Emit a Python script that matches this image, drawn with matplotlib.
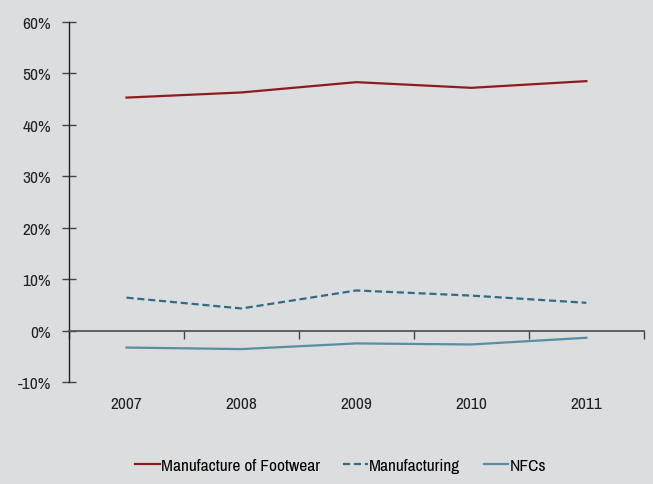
import numpy as np
import matplotlib
matplotlib.use("Agg")
import matplotlib.pyplot as plt
from matplotlib import font_manager

narrow = [f.name for f in font_manager.fontManager.ttflist if 'Narrow' in f.name]
plt.rcParams['font.family'] = (narrow[:1] or ['Liberation Sans']) + ['DejaVu Sans']
plt.rcParams['font.size'] = 12.5 if narrow else 10.5

years = ['2007', '2008', '2009', '2010', '2011']
footwear = [45.3, 46.3, 48.3, 47.2, 48.5]
manufacturing = [6.4, 4.3, 7.8, 6.8, 5.4]
nfcs = [-3.3, -3.6, -2.5, -2.7, -1.4]

bg = '#dcdddf'
fig = plt.figure(figsize=(6.53, 4.85), dpi=100, facecolor=bg)
ax = fig.add_axes([0.1057, 0.2103, 0.8803, 0.7423], facecolor=bg)

x = np.arange(len(years))
ax.plot(x, footwear, color='#8e1c1f', lw=1.6, label='Manufacture of Footwear')
ax.plot(x, manufacturing, color='#2f6c86', lw=1.6, ls=(0, (3.2, 1.7)), label='Manufacturing')
ax.plot(x, nfcs, color='#5a8ea2', lw=1.6, label='NFCs')

ax.set_xlim(-0.5, len(years) - 0.5)
ax.set_ylim(-10, 60)
ax.set_yticks(np.arange(-10, 61, 10))
ax.set_yticklabels([f'{v}%' for v in range(-10, 61, 10)])

for s in ['top', 'right']:
    ax.spines[s].set_visible(False)
ax.spines['left'].set_color('#222222')
ax.spines['left'].set_linewidth(1.0)
ax.spines['bottom'].set_position(('data', 0))
ax.spines['bottom'].set_color('#555555')
ax.spines['bottom'].set_linewidth(1.3)

ax.tick_params(axis='y', direction='inout', length=10, width=1.0, color='#444444',
               pad=8, labelcolor='#222222')
# year labels sit well below the zero line; boundary ticks hang from it
ax.set_xticks(x)
ax.set_xticklabels(years)
ax.tick_params(axis='x', which='major', length=0, pad=47, labelcolor='#222222')
ax.set_xticks(np.arange(-0.5, len(years), 1.0), minor=True)
ax.tick_params(axis='x', which='minor', direction='out', length=6, width=1.0, color='#444444')

fig.legend(loc='center', bbox_to_anchor=(0.5215, 1 - 466 / 485), ncol=3, frameon=False,
           handlelength=1.4, handletextpad=0.08, columnspacing=1.35)

fig.savefig('out.png', dpi=100, facecolor=bg)
